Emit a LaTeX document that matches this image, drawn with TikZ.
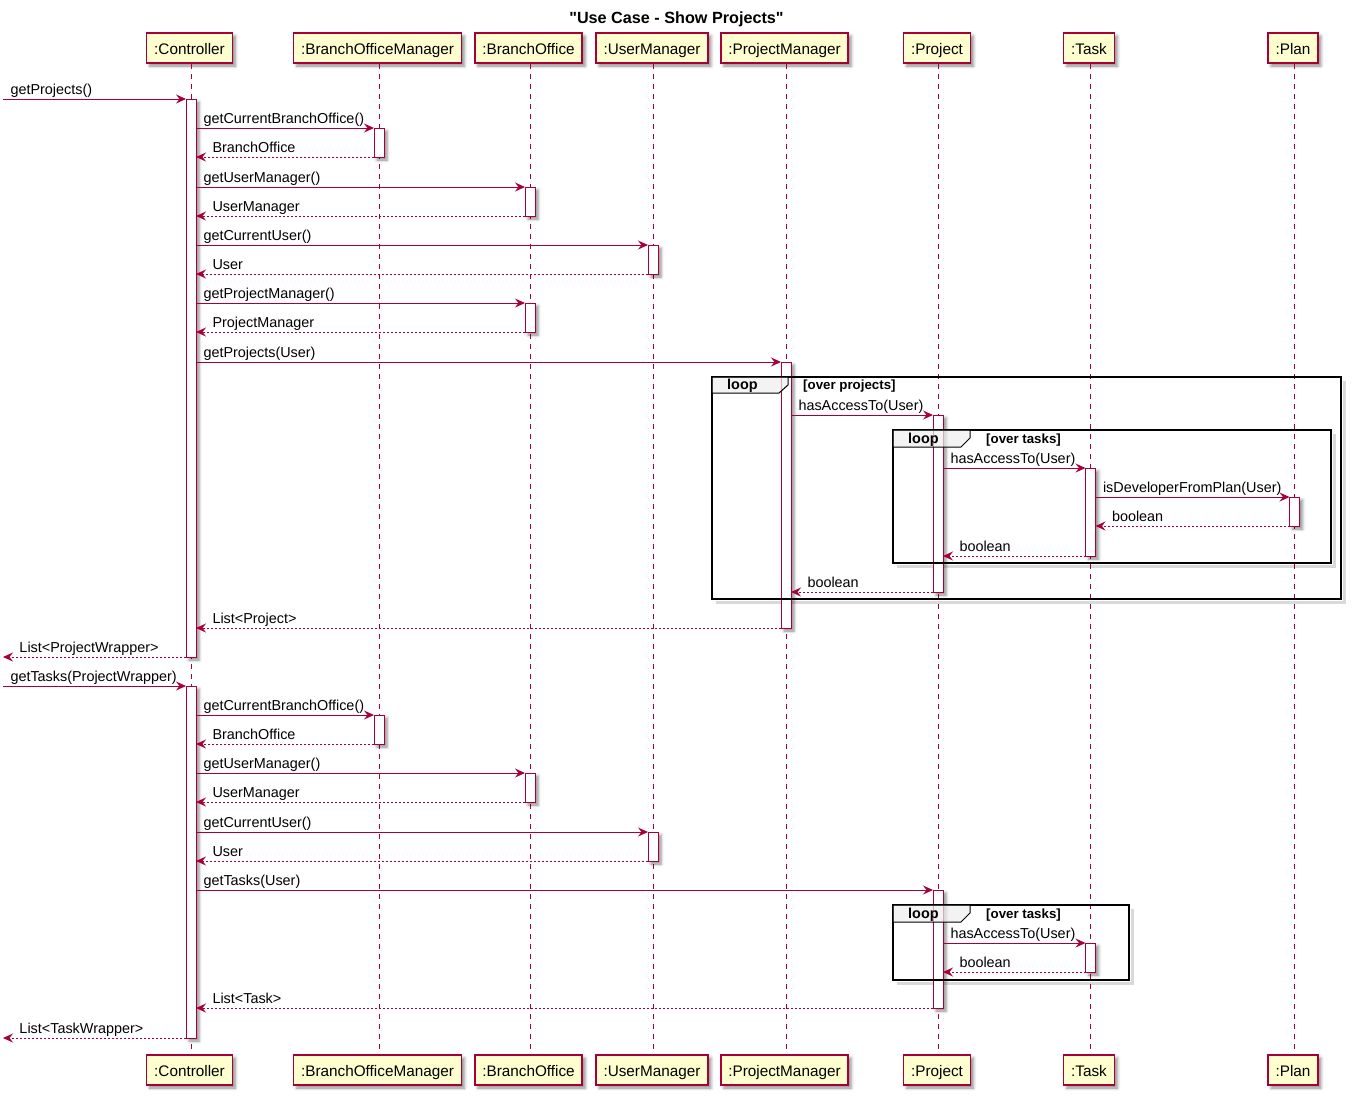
\documentclass[tikz,border=0pt]{standalone}
\usepackage{fontspec}
\setmainfont{Liberation Sans}
\newfontfamily\titlefont{Liberation Sans}[Ligatures=TeXOff]
\usetikzlibrary{arrows.meta,shadows,shadows.blur}
\definecolor{pu}{HTML}{A80036}
\definecolor{pfill}{HTML}{FEFECE}
\definecolor{tabfill}{HTML}{EEEEEE}
\newcommand{\actbar}[4]{\node[act, minimum height={(#4-#3)*1pt}] (#1) at (#2,{(#3+#4)/2}) {};}
\begin{document}
\begin{tikzpicture}[x=1pt,y=-1pt,
  shd/.style={blur shadow={shadow xshift=3pt, shadow yshift=-3pt, shadow blur radius=3pt, shadow opacity=45}},
  part/.style={draw=pu, fill=pfill, line width=1.5pt, minimum height=30pt, inner xsep=7.5pt, inner ysep=0pt,
    text height=13pt, text depth=0pt, font=\fontsize{15.3}{18}\selectfont, shd},
  life/.style={pu, line width=1pt, dash pattern=on 5pt off 5pt},
  act/.style={draw=pu, fill=white, line width=1pt, minimum width=10pt, inner sep=0pt, outer sep=0pt, shd},
  call/.style={pu, line width=1pt, -{Stealth[length=10pt,width=9pt,inset=3.5pt]}},
  ret/.style={call, dash pattern=on 2pt off 2pt},
  lbl/.style={text=black, inner sep=0pt, font=\fontsize{14.4}{17}\selectfont},
  cl/.style={lbl, at start, anchor=base west, xshift=7pt, yshift=4.5pt},
  rl/.style={lbl, at end, anchor=base west, xshift=16pt, yshift=4.5pt},
  frame/.style={draw=black, line width=1.8pt},
  fshadow/.style={black, opacity=0.15, line width=3pt},
  tab/.style={draw=black, fill=tabfill, fill opacity=0.7, line width=1pt},
  looplbl/.style={inner sep=0pt, anchor=base west, font=\bfseries\fontsize{14.4}{17}\selectfont},
  guard/.style={inner sep=0pt, anchor=base west, font=\bfseries\fontsize{13.3}{15}\selectfont}
]
\useasboundingbox (0,0) rectangle (1352,1096);

% title
\node[font=\titlefont\bfseries\fontsize{16.2}{19}\selectfont, anchor=base, inner sep=0pt] (title) at (676.5,23) {"Use Case - Show Projects"};

% lifeline x positions
\coordinate (edge) at (3,0);
\coordinate (ctrlL) at (191,0);
\coordinate (bomL) at (379,0);
\coordinate (boL) at (530,0);
\coordinate (umL) at (653,0);
\coordinate (pmL) at (786,0);
\coordinate (prjL) at (938,0);
\coordinate (tL) at (1090.5,0);
\coordinate (plL) at (1294.5,0);

% participants top and bottom
\foreach \n/\x/\t in {ctrl/189.5/{:Controller}, bom/377.5/{:BranchOfficeManager}, bo/528.5/{:BranchOffice},
  um/652/{:UserManager}, pm/784.5/{:ProjectManager}, prj/937/{:Project}, t/1089/{:Task}, pl/1293/{:Plan}}{
  \node[part] (\n T) at (\x,48) {\t};
  \node[part] (\n B) at (\x,1070) {\t};
}

% lifelines
\foreach \n in {ctrl,bom,bo,um,pm,prj,t,pl}{
  \draw[life] (\n L |- \n T.south) -- (\n L |- \n B.north);
}

% frame shadows
\draw[fshadow] (1344.5,381) -- (1344.5,602.5) -- (716,602.5);
\draw[fshadow] (1334.5,434) -- (1334.5,566.5) -- (897,566.5);
\draw[fshadow] (1132.5,909) -- (1132.5,983.5) -- (897,983.5);

% activation bars
\actbar{c1}{191}{99}{657}
\actbar{bom1}{379}{128}{157}
\actbar{bo1}{530}{187}{216}
\actbar{um1}{653}{245}{274}
\actbar{bo2}{530}{303}{332}
\actbar{pm1}{786}{362}{628}
\actbar{prj1}{938}{415}{592}
\actbar{t1}{1090.5}{468}{556}
\actbar{pl1}{1294.5}{497}{526}
\actbar{c2}{191}{686}{1038}
\actbar{bom2}{379}{715}{744}
\actbar{bo3}{530}{773}{802}
\actbar{um2}{653}{832}{861}
\actbar{prj2}{938}{890}{1008}
\actbar{t2}{1090.5}{943}{972}

% loop frames
\draw[frame] (712,377) rectangle (1341,599);
\draw[tab] (712,377) -- (788,377) -- (788,385) -- (779,393) -- (712,393) -- cycle;
\node[looplbl] (loop1) at (727,389) {loop};
\node[guard] (guard1) at (803,389) {[over projects]};

\draw[frame] (893,430) rectangle (1331,563);
\draw[tab] (893,430) -- (970,430) -- (970,438) -- (961,447) -- (893,447) -- cycle;
\node[looplbl] (loop2) at (908,443) {loop};
\node[guard] (guard2) at (986,443) {[over tasks]};

\draw[frame] (893,905) rectangle (1129,980);
\draw[tab] (893,905) -- (970,905) -- (970,913) -- (961,922) -- (893,922) -- cycle;
\node[looplbl] (loop3) at (908,918) {loop};
\node[guard] (guard3) at (986,918) {[over tasks]};

% messages, first part
\draw[call] (edge |- c1.north west) -- node[cl] (m1) {getProjects()} (c1.north west);
\draw[call] (c1.east |- bom1.north) -- node[cl] (m2) {getCurrentBranchOffice()} (bom1.north west);
\draw[ret] (bom1.south west) -- node[rl] (m3) {BranchOffice} (c1.east |- bom1.south);
\draw[call] (c1.east |- bo1.north) -- node[cl] (m4) {getUserManager()} (bo1.north west);
\draw[ret] (bo1.south west) -- node[rl] (m5) {UserManager} (c1.east |- bo1.south);
\draw[call] (c1.east |- um1.north) -- node[cl] (m6) {getCurrentUser()} (um1.north west);
\draw[ret] (um1.south west) -- node[rl] (m7) {User} (c1.east |- um1.south);
\draw[call] (c1.east |- bo2.north) -- node[cl] (m8) {getProjectManager()} (bo2.north west);
\draw[ret] (bo2.south west) -- node[rl] (m9) {ProjectManager} (c1.east |- bo2.south);
\draw[call] (c1.east |- pm1.north) -- node[cl] (m10) {getProjects(User)} (pm1.north west);
\draw[call] (pm1.east |- prj1.north) -- node[cl] (m11) {hasAccessTo(User)} (prj1.north west);
\draw[call] (prj1.east |- t1.north) -- node[cl] (m12) {hasAccessTo(User)} (t1.north west);
\draw[call] (t1.east |- pl1.north) -- node[cl] (m13) {isDeveloperFromPlan(User)} (pl1.north west);
\draw[ret] (pl1.south west) -- node[rl] (m14) {boolean} (t1.east |- pl1.south);
\draw[ret] (t1.south west) -- node[rl] (m15) {boolean} (prj1.east |- t1.south);
\draw[ret] (prj1.south west) -- node[rl] (m16) {boolean} (pm1.east |- prj1.south);
\draw[ret] (pm1.south west) -- node[rl] (m17) {List<Project>} (c1.east |- pm1.south);
\draw[ret] (c1.south west) -- node[rl] (m18) {List<ProjectWrapper>} (edge |- c1.south west);

% messages, second part
\draw[call] (edge |- c2.north west) -- node[cl] (m19) {getTasks(ProjectWrapper)} (c2.north west);
\draw[call] (c2.east |- bom2.north) -- node[cl] (m20) {getCurrentBranchOffice()} (bom2.north west);
\draw[ret] (bom2.south west) -- node[rl] (m21) {BranchOffice} (c2.east |- bom2.south);
\draw[call] (c2.east |- bo3.north) -- node[cl] (m22) {getUserManager()} (bo3.north west);
\draw[ret] (bo3.south west) -- node[rl] (m23) {UserManager} (c2.east |- bo3.south);
\draw[call] (c2.east |- um2.north) -- node[cl] (m24) {getCurrentUser()} (um2.north west);
\draw[ret] (um2.south west) -- node[rl] (m25) {User} (c2.east |- um2.south);
\draw[call] (c2.east |- prj2.north) -- node[cl] (m26) {getTasks(User)} (prj2.north west);
\draw[call] (prj2.east |- t2.north) -- node[cl] (m27) {hasAccessTo(User)} (t2.north west);
\draw[ret] (t2.south west) -- node[rl] (m28) {boolean} (prj2.east |- t2.south);
\draw[ret] (prj2.south west) -- node[rl] (m29) {List<Task>} (c2.east |- prj2.south);
\draw[ret] (c2.south west) -- node[rl] (m30) {List<TaskWrapper>} (edge |- c2.south west);
\end{tikzpicture}
\end{document}
